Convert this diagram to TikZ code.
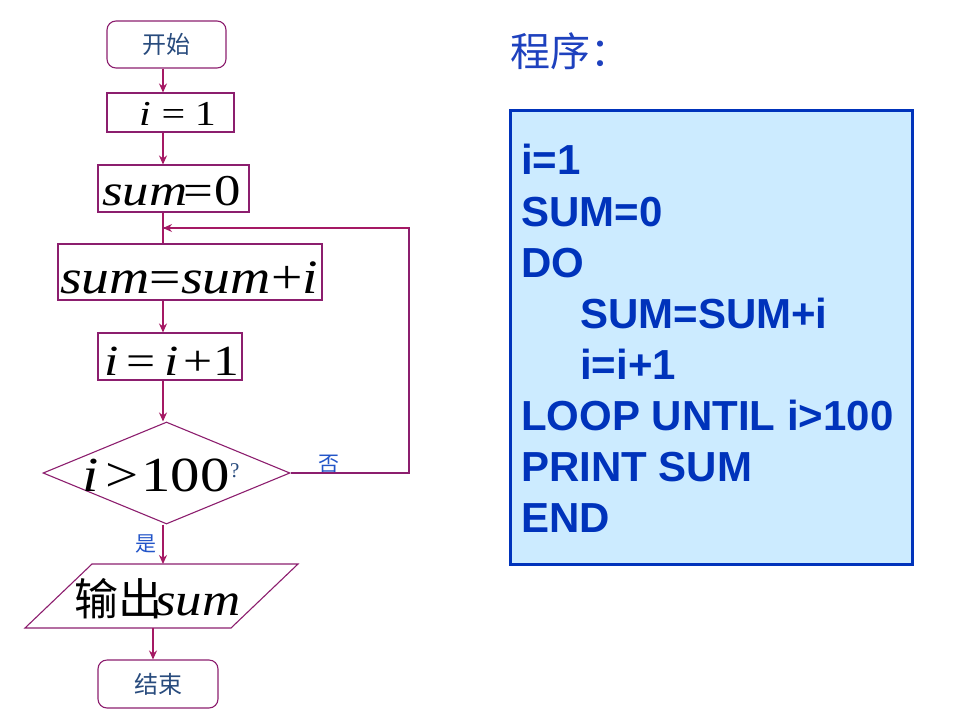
\documentclass[tikz,border=0pt]{standalone}
\usepackage{fontspec}
\setmainfont{Liberation Serif}
\newfontfamily\cjk{Noto Sans CJK SC}
\newfontfamily\codefont{Liberation Sans}
\usetikzlibrary{arrows.meta,shapes.geometric}
\definecolor{flowline}{RGB}{165,25,100}
\definecolor{boxline}{RGB}{140,30,110}
\definecolor{termtext}{RGB}{40,75,125}
\definecolor{labblue}{RGB}{35,85,200}
\definecolor{codeblue}{RGB}{0,51,187}
\definecolor{codefill}{RGB}{204,235,255}
\definecolor{titleblue}{RGB}{30,65,190}
\tikzset{
  term/.style={draw=boxline, line width=1.1pt, rounded corners=9pt, inner sep=0pt},
  procbox/.style={draw=boxline, line width=1.1pt, inner sep=0pt},
  arr/.style={draw=flowline, line width=1.5pt, -{Stealth[length=9pt,width=8pt]}},
  plainline/.style={draw=boxline, line width=1.1pt},
  mathtext/.style={anchor=base west, inner sep=0pt},
  codeline/.style={anchor=base west, inner sep=0pt, text=codeblue, font=\codefont\bfseries\fontsize{42}{48}\selectfont},
  yesno/.style={inner sep=0pt, text=labblue, font=\cjk\fontsize{21}{24}\selectfont},
}
\begin{document}
\begin{tikzpicture}[x=1pt,y=-1pt]
\useasboundingbox (0,0) rectangle (960,720);
\coordinate (spine) at (163,0);
\coordinate (spineb) at (153,0);

% flowchart nodes
\node[term, minimum width=119pt, minimum height=47pt, text=termtext, font=\cjk\fontsize{24}{26}\selectfont] (start) at (166.5,44.5) {开始};
\node[procbox, minimum width=127pt, minimum height=39pt] (n1) at (170.5,112.5) {};
\node[mathtext, font=\fontsize{35}{38}\selectfont] (t1) at (139,125) {\scalebox{1.2}[1]{\textit{i}\hspace{9pt}=\hspace{8pt}1}};
\node[procbox, minimum width=151pt, minimum height=47pt] (n2) at (173.5,188.5) {};
\node[mathtext, font=\fontsize{44}{46}\selectfont] (t2) at (102,205) {\scalebox{1.2}[1]{\textit{sum}\hspace{-3pt}=\hspace{1pt}0}};
\node[procbox, minimum width=264pt, minimum height=56pt] (n3) at (190,272) {};
\node[mathtext, font=\fontsize{48}{50}\selectfont] (t3) at (60,293) {\scalebox{1.16}[1]{\textit{sum}=\textit{sum}+\textit{i}}};
\node[procbox, minimum width=144pt, minimum height=47pt] (n4) at (170,356.5) {};
\node[mathtext, font=\fontsize{43}{46}\selectfont] (t4) at (104,375) {\scalebox{1.2}[1]{\textit{i}\hspace{7pt}=\hspace{7pt}\textit{i}\hspace{4pt}+\hspace{1pt}1}};
\node[draw=boxline, line width=1.1pt, diamond, inner sep=0pt, minimum width=247pt, minimum height=102pt] (dec) at (166.5,473) {};
\node[mathtext, font=\fontsize{49}{52}\selectfont] (t5) at (82,491) {\scalebox{1.2}[1]{\textit{i}\hspace{6pt}>\hspace{2pt}100}};
\node[anchor=base west, inner sep=0pt, text=termtext, font=\fontsize{21}{22}\selectfont] (q) at (230,477) {?};

% parallelogram
\coordinate (pTL) at (92,564);
\coordinate (pTR) at (298,564);
\coordinate (pBR) at (231,628);
\coordinate (pBL) at (25,628);
\draw[boxline, line width=1.1pt] (pTL) -- (pTR) -- (pBR) -- (pBL) -- cycle;
\coordinate (pTop) at (163,564);
\coordinate (pBot) at (153,628);
\node[mathtext] (t6) at (74,615) {{\cjk\fontsize{44}{46}\selectfont 输出}\hspace{-7pt}{\fontsize{46}{48}\selectfont\scalebox{1.15}[1]{\textit{sum}}}};

\node[term, minimum width=120pt, minimum height=48pt, text=termtext, font=\cjk\fontsize{24}{26}\selectfont] (end) at (158,684) {结束};

% labels
\node[yesno] (no) at (329,464) {否};
\node[yesno] (yes) at (146,544) {是};

% connectors
\coordinate (join) at (163,228);
\coordinate (rc) at (409,473);
\draw[arr] (start.south -| spine) -- (n1.north -| spine);
\draw[arr] (n1.south -| spine) -- (n2.north -| spine);
\draw[flowline, line width=1.5pt] (n2.south -| spine) -- (n3.north -| spine);
\draw[arr] (n3.south -| spine) -- (n4.north -| spine);
\draw[arr] (n4.south -| spine) -- (dec.north -| spine);
\draw[arr] (dec.south -| spine) -- (pTop);
\draw[arr] (pBot) -- (end.north -| spineb);
\draw[plainline] (dec.east) -- (rc) |- (join);
\draw[arr, line width=1.1pt] (rc |- join) -- (join);

% program panel
\node[anchor=base west, inner sep=0pt, text=titleblue, font=\cjk\fontsize{40}{44}\selectfont] (title) at (510,66) {程序：};
\node[draw=codeblue, line width=3pt, fill=codefill, minimum width=402pt, minimum height=454pt, inner sep=0pt] (prog) at (711,337) {};
\node[codeline] (c1) at (521,174) {i=1};
\node[codeline] (c2) at (521,226) {SUM=0};
\node[codeline] (c3) at (521,277) {DO};
\node[codeline] (c4) at (580,328) {SUM=SUM+i};
\node[codeline] (c5) at (580,379) {i=i+1};
\node[codeline] (c6) at (521,430) {LOOP UNTIL i>100};
\node[codeline] (c7) at (521,481) {PRINT SUM};
\node[codeline] (c8) at (521,532) {END};
\end{tikzpicture}
\end{document}
